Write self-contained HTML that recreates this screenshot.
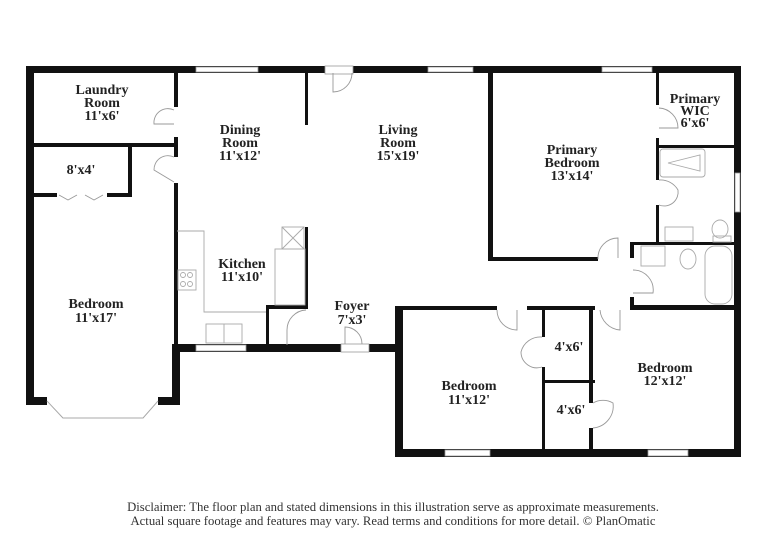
<!DOCTYPE html>
<html><head><meta charset="utf-8"><style>
html,body{margin:0;padding:0;background:#fff}
svg{display:block}
text{font-family:"Liberation Serif",serif;font-weight:bold;font-size:14px;fill:#222;text-anchor:middle}
.d{font-weight:normal;font-size:12.7px;fill:#333}
.w{fill:#111}
.win{fill:#fff;stroke:#999;stroke-width:0.8}
.dr{fill:none;stroke:#999;stroke-width:0.9}
.fx{fill:none;stroke:#aaa;stroke-width:0.9}
</style></head><body>
<svg width="762" height="554" viewBox="0 0 762 554" xmlns="http://www.w3.org/2000/svg">
<rect width="762" height="554" fill="#fff"/>
<rect class="w" x="26" y="66" width="715" height="7"/>
<rect class="w" x="26" y="66" width="8" height="339"/>
<rect class="w" x="734" y="66" width="7" height="391"/>
<rect class="w" x="26" y="397" width="21" height="8"/>
<rect class="w" x="158" y="397" width="22" height="8"/>
<rect class="w" x="172" y="345" width="8" height="60"/>
<rect class="w" x="172" y="344" width="230" height="8"/>
<rect class="w" x="395" y="306" width="8" height="151"/>
<rect class="w" x="395" y="449" width="346" height="8"/>
<rect class="win" x="196" y="67" width="62" height="5"/>
<rect class="win" x="428" y="67" width="45" height="5"/>
<rect class="win" x="602" y="67" width="50" height="5"/>
<rect class="win" x="735" y="173" width="5" height="39"/>
<rect class="win" x="196" y="345" width="50" height="6"/>
<rect class="win" x="445" y="450" width="45" height="6"/>
<rect class="win" x="648" y="450" width="40" height="6"/>
<rect class="win" x="325" y="66" width="28" height="8" fill="#fff"/>
<rect class="win" x="341" y="344" width="28" height="8"/>
<polyline class="fx" points="47,401 63,418 143,418 158,401" stroke-width="3" stroke="#bbb"/>
<polyline class="fx" points="47,401 63,418 143,418 158,401"/>
<rect class="w" x="34" y="143" width="144" height="4"/>
<rect class="w" x="174" y="73" width="4" height="34"/>
<rect class="w" x="174" y="137" width="4" height="20"/>
<rect class="w" x="174" y="183" width="4" height="162"/>
<rect class="w" x="128" y="147" width="4" height="50"/>
<rect class="w" x="34" y="193" width="23" height="4"/>
<rect class="w" x="107" y="193" width="25" height="4"/>
<polyline class="dr" points="59,195 68,200 77,195"/>
<polyline class="dr" points="85,195 94,200 103,195"/>
<path class="dr" d="M174,110 A14,14 0 0 0 154,124 L174,124"/>
<path class="dr" d="M174,157 A14,14 0 0 0 154,170 L174,182"/>
<rect class="w" x="305" y="73" width="3" height="52"/>
<rect class="w" x="305" y="227" width="3" height="81"/>
<rect class="w" x="266" y="305" width="42" height="4"/>
<rect class="w" x="266" y="305" width="3" height="40"/>
<path class="dr" d="M287,345 L287,330 A20,20 0 0 1 306,310"/>
<path class="dr" d="M333,73 L333,92 A19,19 0 0 0 352,73"/>
<path class="dr" d="M345,344 L345,327 A17,17 0 0 1 362,344"/>
<polyline class="fx" points="177,231 204,231 204,312 266,312"/>
<rect class="fx" x="275" y="249" width="30" height="56"/>
<rect class="fx" x="282" y="227" width="22" height="22"/>
<path class="fx" d="M282,227 L304,249 M304,227 L282,249"/>
<rect class="fx" x="178" y="270" width="18" height="20"/>
<circle class="fx" cx="183" cy="275" r="2.5"/><circle class="fx" cx="190" cy="275" r="2.5"/>
<circle class="fx" cx="183" cy="284" r="2.5"/><circle class="fx" cx="190" cy="284" r="2.5"/>
<rect class="fx" x="206" y="324" width="36" height="19"/>
<line class="fx" x1="224" y1="324" x2="224" y2="343"/>
<rect class="w" x="488" y="73" width="5" height="188"/>
<rect class="w" x="488" y="257" width="110" height="4"/>
<rect class="w" x="656" y="73" width="3" height="32"/>
<rect class="w" x="656" y="138" width="3" height="42"/>
<rect class="w" x="656" y="205" width="3" height="40"/>
<rect class="w" x="659" y="145" width="75" height="3"/>
<rect class="w" x="630" y="242" width="104" height="3"/>
<rect class="w" x="630" y="242" width="4" height="16"/>
<rect class="w" x="630" y="297" width="4" height="12"/>
<rect class="w" x="630" y="305" width="104" height="4"/>
<path class="dr" d="M659,108 A20,20 0 0 1 678,128 L659,128"/>
<path class="dr" d="M659,180 A20,20 0 0 1 678,190 A14,14 0 0 1 659,205"/>
<path class="dr" d="M598,259 A20,20 0 0 1 618,238 L618,258"/>
<path class="dr" d="M633,270 A20,20 0 0 1 653,293 L633,293"/>
<rect class="fx" x="660" y="149" width="45" height="28" rx="3"/>
<path class="fx" d="M668,163 L700,155 L700,171 Z"/>
<rect class="fx" x="665" y="227" width="28" height="14"/>
<ellipse class="fx" cx="720" cy="229" rx="8" ry="9"/>
<rect class="fx" x="713" y="236" width="18" height="6"/>
<rect class="fx" x="641" y="246" width="24" height="20"/>
<ellipse class="fx" cx="688" cy="259" rx="8" ry="10"/>
<rect class="fx" x="705" y="246" width="27" height="58" rx="10"/>
<rect class="w" x="400" y="306" width="97" height="4"/>
<rect class="w" x="527" y="306" width="68" height="4"/>
<rect class="w" x="630" y="306" width="104" height="4"/>
<rect class="w" x="542" y="310" width="3" height="27"/>
<rect class="w" x="542" y="367" width="3" height="89"/>
<rect class="w" x="545" y="380" width="50" height="3"/>
<rect class="w" x="589" y="310" width="4" height="93"/>
<rect class="w" x="589" y="428" width="4" height="28"/>
<path class="dr" d="M497,310 A20,20 0 0 0 517,330 L517,310"/>
<path class="dr" d="M542,337 A20,20 0 0 0 521,352 A16,16 0 0 0 542,367"/>
<path class="dr" d="M600,310 A22,22 0 0 0 620,330 L620,310"/>
<path class="dr" d="M593,403 A20,20 0 0 1 613,403 A22,22 0 0 1 593,428"/>
<text x="102" y="94">Laundry</text><text x="102" y="107">Room</text><text x="102" y="120">11'x6'</text>
<text x="240" y="134">Dining</text><text x="240" y="147">Room</text><text x="240" y="160">11'x12'</text>
<text x="398" y="134">Living</text><text x="398" y="147">Room</text><text x="398" y="160">15'x19'</text>
<text x="572" y="154">Primary</text><text x="572" y="167">Bedroom</text><text x="572" y="180">13'x14'</text>
<text x="695" y="103">Primary</text><text x="695" y="115">WIC</text><text x="695" y="127">6'x6'</text>
<text x="81" y="174">8'x4'</text>
<text x="242" y="268">Kitchen</text><text x="242" y="281">11'x10'</text>
<text x="96" y="308">Bedroom</text><text x="96" y="322">11'x17'</text>
<text x="352" y="310">Foyer</text><text x="352" y="324">7'x3'</text>
<text x="569" y="351">4'x6'</text>
<text x="571" y="414">4'x6'</text>
<text x="469" y="390">Bedroom</text><text x="469" y="404">11'x12'</text>
<text x="665" y="372">Bedroom</text><text x="665" y="385">12'x12'</text>
<text class="d" x="393" y="511">Disclaimer: The floor plan and stated dimensions in this illustration serve as approximate measurements.</text>
<text class="d" x="393" y="525">Actual square footage and features may vary. Read terms and conditions for more detail. © PlanOmatic</text>
</svg>
</body></html>
